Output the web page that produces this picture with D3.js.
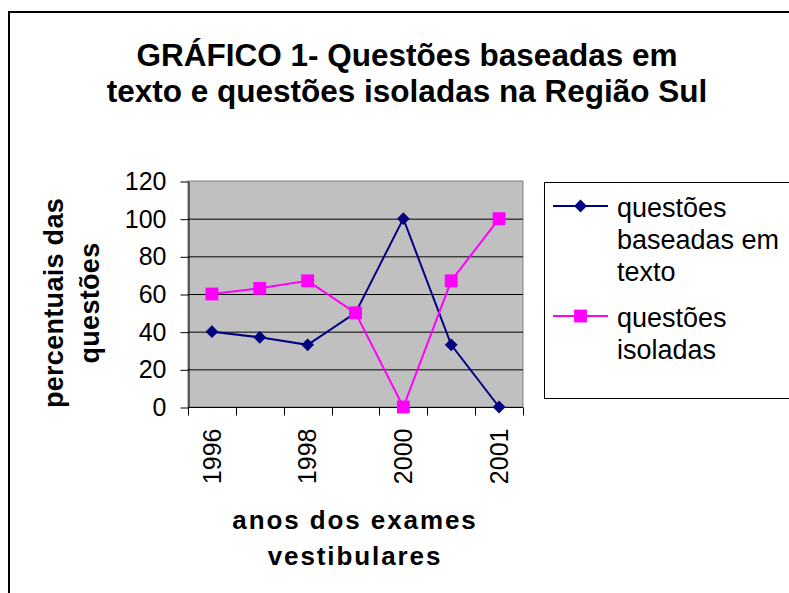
<!DOCTYPE html>
<meta charset="utf-8">
<head>
	<title>Gráfico 1</title>
</head>

<style>
	body { margin: 0; background: #fff; }
	svg { display: block; font-family: "Liberation Sans", Arial, sans-serif; }
	.tick text { font-size: 25px; fill: #000; }
</style>

<body>

<div id="wrapper"></div>

<script src="https://d3js.org/d3.v7.min.js"></script>
<script>

	// dados
	var anos = ["1996", "1997", "1998", "1999", "2000", "2000", "2001"];
	var baseadasTexto = [40, 37, 33, 50, 100, 33, 0];
	var isoladas = [60, 63, 67, 50, 0, 67, 100];
	var yTicks = [0, 20, 40, 60, 80, 100, 120];
	var nomesSeries = [["questões", "baseadas em", "texto"], ["questões", "isoladas"]];
	var cores = ["#000080", "#ff00ff"];

	var width = 789, height = 593;
	var plot = { left: 188, right: 523, top: 181, bottom: 407 };

	var svg = d3.select("#wrapper").append("svg")
		.attr("width", width)
		.attr("height", height);

	// moldura
	svg.append("rect")
		.attr("x", 9).attr("y", 12)
		.attr("width", 820).attr("height", 620)
		.attr("fill", "none")
		.attr("stroke", "#000")
		.attr("stroke-width", 2);

	// titulo
	var title = svg.append("text")
		.attr("text-anchor", "middle")
		.style("font-size", "31.5px")
		.style("font-weight", "bold");
	title.append("tspan").attr("x", 407).attr("y", 66).text("GRÁFICO 1- Questões baseadas em");
	title.append("tspan").attr("x", 407).attr("y", 102).text("texto e questões isoladas na Região Sul");

	var x = d3.scaleBand()
		.domain(d3.range(anos.length))
		.range([plot.left, plot.right]);

	var y = d3.scaleLinear()
		.domain([0, 120])
		.range([plot.bottom, plot.top]);

	// area do grafico
	svg.append("rect")
		.attr("x", plot.left).attr("y", plot.top)
		.attr("width", plot.right - plot.left)
		.attr("height", plot.bottom - plot.top)
		.attr("fill", "#c0c0c0")
		.attr("stroke", "#808080")
		.attr("stroke-width", 1);

	svg.append("g")
		.selectAll("line")
		.data(yTicks.filter(function(d) { return d > 0 && d < 120; }))
		.join("line")
		.attr("x1", plot.left).attr("x2", plot.right)
		.attr("y1", function(d) { return y(d) + 0.5; })
		.attr("y2", function(d) { return y(d) + 0.5; })
		.attr("stroke", "#000")
		.attr("stroke-width", 1);

	// eixo y
	var yAxis = svg.append("g")
		.attr("transform", "translate(" + (plot.left + 0.5) + ",0.5)")
		.call(d3.axisLeft(y).tickValues(yTicks).tickSize(8).tickPadding(14).tickSizeOuter(0));
	yAxis.select(".domain").attr("stroke", "#000");

	// eixo x: marcas nas divisas das categorias
	var xAxis = svg.append("g").attr("transform", "translate(0," + (plot.bottom + 0.5) + ")");
	xAxis.append("line")
		.attr("x1", plot.left).attr("x2", plot.right)
		.attr("stroke", "#000");
	xAxis.selectAll(".xt")
		.data(d3.range(anos.length + 1))
		.join("line")
		.attr("class", "xt")
		.attr("x1", function(i) { return Math.round(plot.left + i * x.step()) + 0.5; })
		.attr("x2", function(i) { return Math.round(plot.left + i * x.step()) + 0.5; })
		.attr("y1", 0).attr("y2", 8)
		.attr("stroke", "#000");
	xAxis.selectAll("text")
		.data(d3.range(anos.length).filter(function(i) { return i % 2 == 0; }))
		.join("text")
		.attr("transform", function(i) {
			return "translate(" + (x(i) + x.bandwidth() / 2) + ",21) rotate(-90)";
		})
		.attr("text-anchor", "end")
		.attr("dy", "0.35em")
		.style("font-size", "25px")
		.text(function(i) { return anos[i]; });

	// rotulos dos eixos
	var yl = svg.append("g").attr("transform", "translate(0,303)");
	yl.append("text")
		.attr("transform", "translate(63,0) rotate(-90)")
		.attr("text-anchor", "middle")
		.style("font-size", "27px").style("font-weight", "bold")
		.style("letter-spacing", "0.3px")
		.text("percentuais das");
	yl.append("text")
		.attr("transform", "translate(99,0) rotate(-90)")
		.attr("text-anchor", "middle")
		.style("font-size", "27px").style("font-weight", "bold")
		.style("letter-spacing", "0.3px")
		.text("questões");

	var xl = svg.append("text")
		.attr("text-anchor", "middle")
		.style("font-size", "26px").style("font-weight", "bold")
		.style("letter-spacing", "1.9px");
	xl.append("tspan").attr("x", 355).attr("y", 529).text("anos dos exames");
	xl.append("tspan").attr("x", 355).attr("y", 565).text("vestibulares");

	// series (losango = quadrado girado 45 graus)
	var series = [baseadasTexto, isoladas];
	var tamanhos = [82, 165];
	var giro = [45, 0];

	var line = d3.line()
		.x(function(d, i) { return x(i) + x.bandwidth() / 2; })
		.y(function(d) { return y(d); });

	series.forEach(function(s, k) {
		svg.append("path")
			.datum(s)
			.attr("d", line)
			.attr("fill", "none")
			.attr("stroke", cores[k])
			.attr("stroke-width", 2);
	});

	series.forEach(function(s, k) {
		svg.append("g")
			.selectAll("path")
			.data(s)
			.join("path")
			.attr("transform", function(d, i) {
				return "translate(" + (x(i) + x.bandwidth() / 2) + "," + y(d) + ") rotate(" + giro[k] + ")";
			})
			.attr("d", d3.symbol().type(d3.symbolSquare).size(tamanhos[k]))
			.attr("fill", cores[k]);
	});

	// legenda
	svg.append("rect")
		.attr("x", 544.5).attr("y", 182.5)
		.attr("width", 300).attr("height", 216)
		.attr("fill", "#fff")
		.attr("stroke", "#000");

	var baseLeg = [217, 327];
	nomesSeries.forEach(function(linhas, k) {
		var g = svg.append("g");
		g.append("line")
			.attr("x1", 553).attr("x2", 608)
			.attr("y1", baseLeg[k] - 11).attr("y2", baseLeg[k] - 11)
			.attr("stroke", cores[k]).attr("stroke-width", 2);
		g.append("path")
			.attr("transform", "translate(580.5," + (baseLeg[k] - 11) + ") rotate(" + giro[k] + ")")
			.attr("d", d3.symbol().type(d3.symbolSquare).size(k == 0 ? 82 : 165))
			.attr("fill", cores[k]);
		g.append("text")
			.style("font-size", "27px")
			.selectAll("tspan")
			.data(linhas)
			.join("tspan")
			.attr("x", 617)
			.attr("y", function(d, i) { return baseLeg[k] + i * 32; })
			.text(function(d) { return d; });
	});

</script>
</body>
</html>
